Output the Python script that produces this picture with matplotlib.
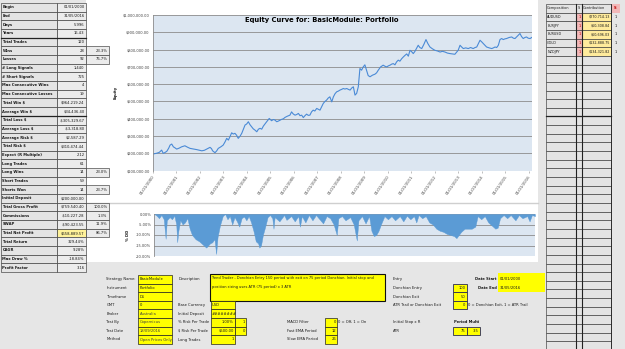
import matplotlib
matplotlib.use("Agg")
import matplotlib.pyplot as plt
from matplotlib.patches import Rectangle
from matplotlib.ticker import FuncFormatter

# ---------------- data ----------------
stat_labels = ["Begin", "End", "Days", "Years", "Total Trades", "Wins", "Losses", "# Long Signals",
               "# Short Signals", "Max Consecutive Wins", "Max Consecutive Losses", "Total Win $",
               "Average Win $", "Total Loss $", "Average Loss $", "Average Risk $", "Total Risk $",
               "Expect (R Multiple)", "Long Trades", "Long Wins", "Short Trades", "Shorts Won",
               "Initial Deposit", "Total Gross Profit", "Commissions", "SWAP", "Total Net Profit",
               "Total Return", "CAGR", "Max Draw %", "Profit Factor"]
stat_values = ["01/01/2000", "31/05/2016", "5,996", "16.43", "120", "28", "92", "1,440", "725", "4", "19",
               "$964,219.24", "$34,436.40", "-$305,329.67", "-$3,318.80", "$2,587.29", "$310,474.44",
               "2.12", "61", "14", "59", "14", "$200,000.00", "$759,540.40", "-$10,227.28",
               "-$90,423.55", "$658,889.57", "329.44%", "9.28%", "-18.84%", "3.16"]
stat_pcts = ["", "", "", "", "", "23.3%", "76.7%", "", "", "", "", "", "", "", "", "", "", "", "",
             "23.0%", "", "23.7%", "", "100.0%", "1.3%", "11.9%", "86.7%", "", "", "", ""]

# years since 01/01/2000 and equity in $
equity_t = [0.00, 0.10, 0.17, 0.28, 0.38, 0.45, 0.52, 0.60, 0.68, 0.74, 0.81, 0.88, 0.95, 1.02, 1.12,
            1.23, 1.37, 1.48, 1.59, 1.72, 1.87, 2.00, 2.09, 2.20, 2.30, 2.44, 2.50, 2.55, 2.65, 2.72,
            2.79, 2.90, 3.00, 3.08, 3.15, 3.22, 3.30, 3.36, 3.43, 3.50, 3.57, 3.64, 3.72, 3.79, 3.86,
            3.93, 4.00, 4.07, 4.14, 4.21, 4.28, 4.35, 4.43, 4.50, 4.57, 4.64, 4.71, 4.78, 4.85, 4.96,
            5.06, 5.13, 5.20, 5.28, 5.35, 5.42, 5.49, 5.56, 5.63, 5.73, 5.84, 5.91, 5.98, 6.06, 6.13,
            6.20, 6.27, 6.34, 6.41, 6.48, 6.55, 6.62, 6.69, 6.76, 6.83, 6.90, 6.98, 7.05, 7.12, 7.19,
            7.26, 7.33, 7.40, 7.47, 7.54, 7.62, 7.69, 7.76, 7.83, 7.90, 7.97, 8.04, 8.11, 8.18, 8.26,
            8.33, 8.40, 8.47, 8.54, 8.61, 8.68, 8.75, 8.82, 8.89, 8.96, 9.03, 9.10, 9.17, 9.25, 9.35,
            9.46, 9.53, 9.60, 9.70, 9.81, 9.88, 9.96, 10.03, 10.10, 10.17, 10.24, 10.31, 10.38, 10.45,
            10.52, 10.60, 10.67, 10.74, 10.81, 10.88, 10.95, 11.02, 11.09, 11.16, 11.23, 11.30, 11.37,
            11.45, 11.54, 11.63, 11.71, 11.80, 11.90, 12.01, 12.12, 12.23, 12.33, 12.44, 12.54, 12.65,
            12.75, 12.86, 12.93, 13.00, 13.08, 13.15, 13.22, 13.32, 13.43, 13.53, 13.64, 13.72, 13.79,
            13.86, 13.93, 14.00, 14.07, 14.14, 14.21, 14.32, 14.43, 14.50, 14.57, 14.64, 14.71, 14.78,
            14.85, 14.92, 14.99, 15.06, 15.17, 15.28, 15.35, 15.42, 15.52, 15.63, 15.70, 15.77, 15.84,
            15.91, 15.98, 16.06, 16.13]
equity_usd = [196000, 199000, 201000, 206000, 219000, 200000, 205000, 212000, 230000, 248000, 254000,
              238000, 232000, 225000, 230000, 238000, 244000, 236000, 229000, 226000, 222000, 218000,
              215000, 218000, 225000, 235000, 228000, 215000, 204000, 214000, 229000, 238000, 248000,
              267000, 287000, 277000, 300000, 319000, 312000, 316000, 305000, 287000, 300000, 316000,
              340000, 364000, 370000, 383000, 366000, 354000, 342000, 335000, 325000, 340000, 345000,
              340000, 358000, 370000, 383000, 402000, 389000, 396000, 393000, 383000, 387000, 392000,
              397000, 400000, 408000, 415000, 421000, 440000, 428000, 421000, 425000, 431000, 418000,
              421000, 407000, 418000, 427000, 420000, 421000, 440000, 450000, 445000, 460000, 455000,
              450000, 470000, 489000, 500000, 508000, 520000, 527000, 498000, 527000, 545000, 556000,
              560000, 566000, 570000, 575000, 572000, 575000, 570000, 566000, 578000, 585000, 537000,
              547000, 585000, 691000, 681000, 700000, 712000, 680000, 650000, 643000, 652000, 658000,
              666000, 681000, 700000, 710000, 704000, 700000, 706000, 710000, 716000, 719000, 712000,
              729000, 739000, 733000, 748000, 758000, 767000, 775000, 762000, 796000, 788000, 777000,
              790000, 808000, 825000, 812000, 806000, 830000, 858000, 835000, 815000, 805000, 796000,
              792000, 786000, 790000, 786000, 780000, 777000, 775000, 773000, 785000, 796000, 825000,
              815000, 806000, 810000, 806000, 812000, 806000, 812000, 815000, 835000, 854000, 845000,
              835000, 825000, 815000, 810000, 806000, 810000, 815000, 812000, 825000, 858000, 864000,
              858000, 862000, 864000, 870000, 873000, 866000, 864000, 878000, 893000, 875000, 864000,
              870000, 873000, 866000, 864000, 870000]

dd_t = [0.00, 0.10, 0.20, 0.30, 0.40, 0.48, 0.53, 0.65, 0.75, 0.85, 0.93, 0.97, 1.02, 1.10, 1.20, 1.30,
        1.40, 1.50, 1.60, 1.75, 1.90, 2.00, 2.10, 2.20, 2.28, 2.36, 2.45, 2.55, 2.62, 2.68, 2.78, 2.90,
        3.00, 3.10, 3.20, 3.30, 3.40, 3.50, 3.60, 3.70, 3.80, 3.90, 4.00, 4.10, 4.20, 4.30, 4.40, 4.45,
        4.52, 4.60, 4.70, 4.80, 4.90, 5.00, 5.05, 5.10, 5.30, 5.50, 5.60, 5.80, 5.95, 6.10, 6.17, 6.25,
        6.40, 6.55, 6.70, 6.85, 7.00, 7.15, 7.30, 7.45, 7.60, 7.73, 7.80, 7.95, 8.10, 8.30, 8.45, 8.58,
        8.65, 8.80, 8.95, 9.10, 9.20, 9.30, 9.40, 9.50, 9.60, 9.75, 9.90, 10.05, 10.20, 10.40, 10.55,
        10.70, 10.85, 11.00, 11.10, 11.20, 11.35, 11.50, 11.65, 11.80, 11.95, 12.10, 12.25, 12.40,
        12.55, 12.70, 12.80, 12.90, 13.00, 13.15, 13.30, 13.45, 13.60, 13.70, 13.85, 14.00, 14.15,
        14.30, 14.45, 14.55, 14.65, 14.80, 14.95, 15.10, 15.30, 15.45, 15.60, 15.80, 15.90, 16.00, 16.13]
dd_pct = [0, -0.8, -2.0, -0.5, -2.5, -11.8, -3, -1.5, -2.5, -0.8, -5, -13.4, -8, -3, -5, -4, -2, -7, -10,
          -12, -13, -14, -15, -16, -15, -14, -13.5, -12, -19, -11, -5.5, -1, 0, -2.5, -1, -5, -1.5, -3.5,
          -6, -2, -1.2, -3, -1, -4, -8, -13, -14, -16, -15, -10, -6, -1.5, -0.5, -2, -7, -1.5, -3.5,
          -0.5, -2.8, -1, -3.5, -1, -6, -1, -4, -0.5, -3, -0.5, -2.5, -4.5, -1, -2, -5, -10, -2, -1, -3,
          -1.5, -5, -12.6, -3, -1, -4.5, -1, -8, -10.5, -10, -8, -5, -1, -2.5, -1, -3, -1, -3.5, -0.8,
          -2.5, -1, -4, -0.5, -2, -1, -4, -5, -7, -8, -8.5, -9.5, -10, -10.5, -11.5, -10, -8.5, -7, -7,
          -7, -6, -1, -2.5, -1, -4, -5.5, -7, -6.5, -2, -0.5, -2, -0.5, -3, -0.5, -2, -1, -3.5, -0.5, -1]

tick_years = list(range(2000, 2017))

comp_names = ["AUDUSD", "EURJPY", "EURUSD", "GOLD", "NZDJPY"]
comp_counts = [1, 1, 1, 1, 1]
comp_contrib = ["$270,714.13", "$60,308.84", "$60,696.03", "$132,888.75", "$134,321.82"]
comp_flags = [1, 1, 1, 1, 1]

strategy_fields = ["Strategy Name:", "Instrument", "Timeframe", "GMT", "Broker", "Test By", "Test Date", "Method"]
strategy_values = ["BasicModule", "Portfolio", "D1", "0", "Australia", "Copernicus", "18/09/2016", "Open Prices Only"]
acct_fields = ["Base Currency", "Initial Deposit", "% Risk Per Trade", "$ Risk Per Trade", "Long Trades"]
acct_values = ["USD", "########", "1.00%", "$500.00", "1"]
description = ["Trend Trader - Donchian Entry 150 period with exit on 75 period Donchian. Initial stop and",
               "position sizing uses ATR (75 period) x 3 ATR"]
macd_fields = ["MACD Filter", "Fast EMA Period", "Slow EMA Period"]
macd_values = ["0", "12", "26"]
entry_fields = ["Donchian Entry", "Donchian Exit", "ATR Trail or Donchian Exit"]
entry_values = ["100", "50", "0"]

# ---------------- figure ----------------
plt.rcParams["font.family"] = ["Liberation Sans Narrow", "DejaVu Sans"]
plt.rcParams["font.stretch"] = "condensed"
W, H = 625, 349
fig = plt.figure(figsize=(W / 100, H / 100), dpi=100)
fig.patch.set_facecolor("#e6e6e6")
bg = fig.add_axes([0, 0, 1, 1])
bg.set_xlim(0, W)
bg.set_ylim(H, 0)
bg.axis("off")

TXT = "#1a1a1a"
FS = 3.0


def rect(x0, y0, x1, y1, fc="none", ec="#3a3a3a", lw=0.45, z=1):
    bg.add_patch(Rectangle((x0, y0), x1 - x0, y1 - y0, facecolor=fc, edgecolor=ec, linewidth=lw, zorder=z))


def T(x, y, s, ha="left", size=FS, bold=False, color=TXT, z=5):
    bg.text(x, y, s, ha=ha, va="center", fontsize=size, fontweight="bold" if bold else "normal",
            color=color, zorder=z, fontstretch="condensed")


# chart boxes
rect(86, 0, 538, 202.5, fc="white", ec="none", z=0)
rect(86, 204, 538, 262, fc="white", ec="none", z=0)
bg.plot([86, 538], [203.2, 203.2], color="#cfcfcf", lw=1.0, zorder=0)

# left stats table
top, rh = 3.0, 8.68
xl0, xl1, xv1, xp1 = 1, 57, 86, 109
for i, (lab, val, pct) in enumerate(zip(stat_labels, stat_values, stat_pcts)):
    y0 = top + i * rh
    y1 = y0 + rh
    yc = (y0 + y1) / 2
    rect(xl0, y0, xl1, y1, fc="#e4e4e4")
    rect(xl1, y0, xv1, y1, fc="#fff29a" if lab == "Total Net Profit" else "#ececec")
    T(xl0 + 1.5, yc, lab, bold=True, size=2.95)
    T(xv1 - 1.5, yc, val, ha="right")
    if pct:
        rect(xv1, y0, xp1, y1, fc="#ececec")
        T(xp1 - 1.5, yc, pct, ha="right")
for r in [4, 13]:
    bg.plot([xl0, xv1], [top + r * rh, top + r * rh], color="#222222", lw=0.9, zorder=3)

# composition table
cx0, cx1, cx2, cx3 = 546, 576, 582, 611
ct, ch = 4.0, 8.65
n_rows = int((H - ct) / ch) + 1
for r in range(n_rows):
    y0 = ct + r * ch
    y1 = y0 + ch
    yc = (y0 + y1) / 2
    data = 1 <= r <= len(comp_names)
    rect(cx0, y0, cx1, y1, fc="#e4e4e4")
    rect(cx1, y0, cx2, y1, fc="#f2b8b8" if data else "#e4e4e4")
    rect(cx2, y0, cx3, y1, fc="#ffeb9c" if data else "#e4e4e4")
    if r == 0:
        T(cx0 + 1.2, yc, "Composition", size=2.8)
        T((cx1 + cx2) / 2, yc, "S", ha="center", size=2.8)
        T(cx2 + 1.0, yc, "Contribution", size=2.8)
        rect(cx3 + 1, y0, 620, y1, fc="#f2b8b8", ec="none")
        T(615.5, yc, "S", ha="center", bold=True, color="#c00000")
    elif data:
        k = r - 1
        T(cx0 + 1.2, yc, comp_names[k], size=2.7)
        T(cx2 - 1.2, yc, str(comp_counts[k]), ha="right", color="#c00000")
        T(cx3 - 1.2, yc, comp_contrib[k], ha="right", size=2.7)
        T(615.5, yc, str(comp_flags[k]), ha="center")
for xv in [cx1, cx2]:
    bg.plot([xv, xv], [ct, H], color="#222222", lw=0.8, zorder=3)
bg.plot([cx3, cx3], [ct, H], color="#222222", lw=0.6, zorder=3)
bg.plot([cx0, cx3], [ct + 13 * ch, ct + 13 * ch], color="#222222", lw=0.9, zorder=3)

# bottom parameter panel
bt, bh = 275.0, 8.6
YEL = "#ffff00"
for i, (f, v) in enumerate(zip(strategy_fields, strategy_values)):
    y0 = bt + i * bh
    T(106.5, y0 + bh / 2, f)
    rect(138.3, y0, 171.7, y0 + bh, fc=YEL, ec="#222222", lw=0.5)
    T(139.5, y0 + bh / 2, v, color="#404040" if i >= 4 else TXT)

T(178.3, bt + bh / 2, "Description")
rect(210, 273.5, 385, 300.5, fc=YEL, ec="#111111", lw=0.8)
T(211.5, 278.3, description[0], size=2.85)
T(211.5, 286.9, description[1], size=2.85)

for j, (f, v) in enumerate(zip(acct_fields, acct_values)):
    i = j + 3
    y0 = bt + i * bh
    T(178.3, y0 + bh / 2, f)
    rect(210.5, y0, 235, y0 + bh, fc=YEL, ec="#222222", lw=0.5)
    if j < 2:
        T(211.5, y0 + bh / 2, v)
    else:
        T(233.8, y0 + bh / 2, v, ha="right")
for j, v in enumerate(["1", "0"]):
    y0 = bt + (5 + j) * bh
    rect(235, y0, 246, y0 + bh, fc=YEL, ec="#222222", lw=0.5)
    T(244.8, y0 + bh / 2, v, ha="right")

for j, (f, v) in enumerate(zip(macd_fields, macd_values)):
    y0 = bt + (5 + j) * bh
    T(286.7, y0 + bh / 2, f)
    rect(325, y0, 337, y0 + bh, fc=YEL, ec="#222222", lw=0.5)
    T(336, y0 + bh / 2, v, ha="right")
T(338, bt + 5 * bh + bh / 2, "0 = Off, 1 = On")

T(393, bt + bh / 2, "Entry")
for j, (f, v) in enumerate(zip(entry_fields, entry_values)):
    y0 = bt + (1 + j) * bh
    T(393, y0 + bh / 2, f)
    rect(452.7, y0, 466.7, y0 + bh, fc=YEL, ec="#2b2b55", lw=0.6)
    T(465.5, y0 + bh / 2, v, ha="right")
T(468.5, bt + 3 * bh + bh / 2, "0 = Donchian Exit, 1 = ATR Trail")
T(393, bt + 5 * bh + bh / 2, "Initial Stop x R")
T(454, bt + 5 * bh + bh / 2, "Period Multi", bold=True)
T(393, bt + 6 * bh + bh / 2, "ATR")
y0 = bt + 6 * bh
rect(452.7, y0, 466.7, y0 + bh, fc=YEL, ec="#2b2b55", lw=0.6)
rect(466.7, y0, 480, y0 + bh, fc=YEL, ec="#2b2b55", lw=0.6)
T(465.5, y0 + bh / 2, "75", ha="right")
T(478.8, y0 + bh / 2, "3.5", ha="right")

rect(498, 273.3, 545, 292.3, fc=YEL, ec="none")
T(496.5, bt + bh / 2, "Date Start", ha="right", bold=True)
T(496.5, bt + 1.5 * bh, "Date End", ha="right", bold=True)
T(500, bt + bh / 2, stat_values[0])
T(500, bt + 1.5 * bh, stat_values[1])


def px_axes(x0, y0, x1, y1):
    return fig.add_axes([x0 / W, 1 - y1 / H, (x1 - x0) / W, (y1 - y0) / H])


GRID = "#8c8c8c"
LAB = "#404040"

# equity curve
ax = px_axes(152.7, 15, 531.7, 170.7)
ax.set_facecolor("#dce6f1")
ax.plot(equity_t, equity_usd, color="#4a8ad6", lw=0.8)
ax.set_xlim(0, 16.13)
ax.set_ylim(100000, 1000000)
ax.set_yticks(range(100000, 1000001, 100000))
ax.yaxis.set_major_formatter(FuncFormatter(lambda v, p: f"${v:,.2f}"))
ax.grid(axis="y", color=GRID, lw=0.6)
ax.set_axisbelow(True)
ax.set_xticks([y - 2000 for y in tick_years])
ax.set_xticklabels([f"01/01/{y}" for y in tick_years], rotation=55, ha="right",
                   rotation_mode="anchor", fontsize=3.2, color=LAB)
for s in ["top", "right", "bottom"]:
    ax.spines[s].set_visible(False)
ax.spines["left"].set_color(GRID)
ax.spines["left"].set_linewidth(0.6)
ax.tick_params(axis="y", length=0, pad=2.2, labelsize=2.9, labelcolor=LAB)
ax.tick_params(axis="x", length=1.5, width=0.4, color=GRID, pad=1.0)
ax.set_ylabel("Equity", fontsize=3.0, fontweight="bold", labelpad=4, color=TXT)
ax.set_title("Equity Curve for: BasicModule: Portfolio", fontsize=5.4, fontweight="bold",
             x=0.445, y=0.955, pad=0, color="black")

# drawdown
ax2 = px_axes(154.3, 214, 535, 256)
ax2.set_facecolor("#dce6f1")
ax2.fill_between(dd_t, dd_pct, 0, color="#5b9bd5", lw=0.3, edgecolor="#5b9bd5")
ax2.set_xlim(0, 16.13)
ax2.set_ylim(-20, 0)
ax2.set_yticks([0, -5, -10, -15, -20])
ax2.yaxis.set_major_formatter(FuncFormatter(lambda v, p: f"{v:.2f}%"))
ax2.grid(axis="y", color=GRID, lw=0.6)
ax2.set_axisbelow(True)
ax2.set_xticks([])
for s in ["top", "right", "bottom"]:
    ax2.spines[s].set_visible(False)
ax2.spines["left"].set_color(GRID)
ax2.spines["left"].set_linewidth(0.6)
ax2.tick_params(axis="y", length=0, pad=2.2, labelsize=2.9, labelcolor=LAB)
ax2.set_ylabel("% DD", fontsize=3.0, fontweight="bold", labelpad=4, color=TXT)

fig.savefig("out.png", dpi=100, facecolor=fig.get_facecolor())
